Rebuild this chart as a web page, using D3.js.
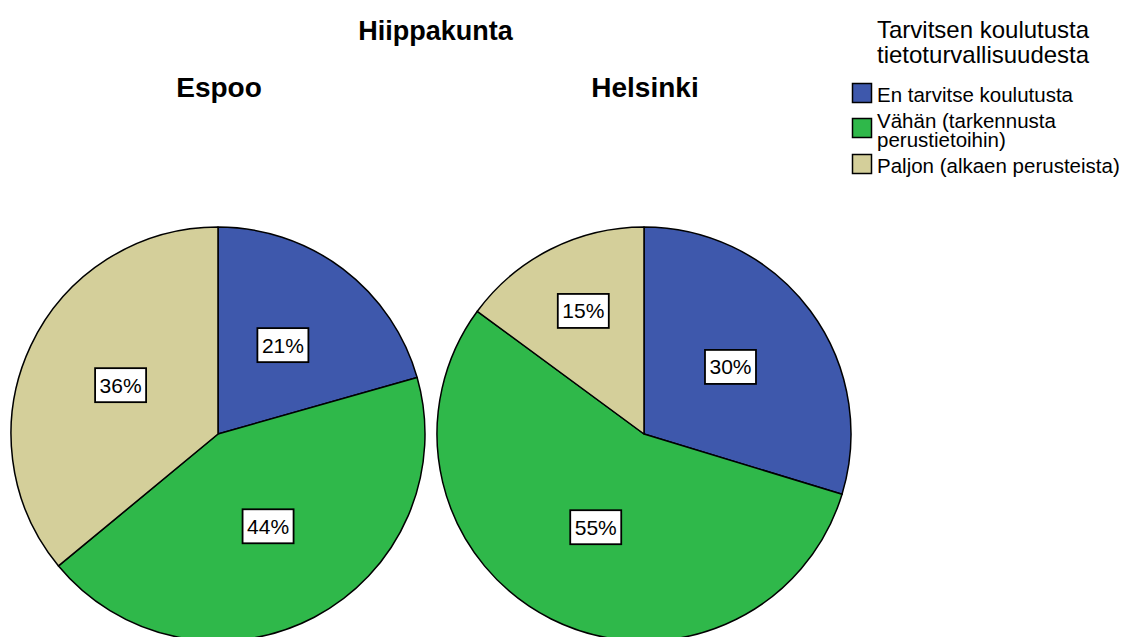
<!DOCTYPE html>
<html><head><meta charset="utf-8">
<script src="https://cdn.jsdelivr.net/npm/d3@7"></script>
<style>html,body{margin:0;padding:0;background:#fff;overflow:hidden}svg{display:block;font-family:Arial,"Liberation Sans",sans-serif}</style>
</head><body>
<svg id="c" width="1123" height="637"></svg>
<script>
const chartTitle = "Hiippakunta";
const panels = ["Espoo", "Helsinki"];
const categories = ["En tarvitse koulutusta", "Vähän (tarkennusta perustietoihin)", "Paljon (alkaen perusteista)"];
const legendLines = [["En tarvitse koulutusta"], ["Vähän (tarkennusta", "perustietoihin)"], ["Paljon (alkaen perusteista)"]];
const legendTitle = ["Tarvitsen koulutusta", "tietoturvallisuudesta"];
const espooValues = [20.6, 43.4, 36.0];
const helsinkiValues = [29.7, 55.4, 14.9];
const espooLabels = ["21%", "44%", "36%"];
const helsinkiLabels = ["30%", "55%", "15%"];
const colors = ["#3e58ac", "#2fb84a", "#d4cf9a"];

const svg = d3.select("#c");
const color = d3.scaleOrdinal().domain(categories).range(colors);
const xPanel = d3.scalePoint().domain(panels).range([218, 644]);
const R = 207, cy = 434;

svg.append("text").attr("x", 435.5).attr("y", 40).attr("text-anchor", "middle")
  .attr("font-size", 27).attr("font-weight", "bold").text(chartTitle);

const pie = d3.pie().sort(null).value(d => d.v);
const arc = d3.arc().innerRadius(0).outerRadius(R);

const datasets = [
  {name: "Espoo", values: espooValues, labels: espooLabels},
  {name: "Helsinki", values: helsinkiValues, labels: helsinkiLabels}
];

datasets.forEach(ds => {
  const cx = xPanel(ds.name);
  svg.append("text").attr("x", cx + 1).attr("y", 97).attr("text-anchor", "middle")
    .attr("font-size", 28).attr("font-weight", "bold").text(ds.name);
  const g = svg.append("g").attr("transform", `translate(${cx},${cy})`);
  const arcs = pie(categories.map((c, i) => ({c, v: ds.values[i], l: ds.labels[i]})));
  g.selectAll("path").data(arcs).join("path")
    .attr("d", arc).attr("fill", d => color(d.data.c))
    .attr("stroke", "#000").attr("stroke-width", 1.5).attr("stroke-linejoin", "round");
  arcs.forEach(d => {
    const frac = d.data.v < 20 ? 0.65 : 0.52;
    const la = d3.arc().innerRadius(R * frac).outerRadius(R * frac);
    const [lx, ly] = la.centroid(d);
    const lg = g.append("g").attr("transform", `translate(${lx},${ly - 3})`);
    lg.append("rect").attr("x", -25.5).attr("y", -17).attr("width", 51).attr("height", 34)
      .attr("fill", "#fff").attr("stroke", "#000").attr("stroke-width", 1.8);
    lg.append("text").attr("text-anchor", "middle").attr("y", 7.5).attr("font-size", 21)
      .text(d.data.l);
  });
});

// legend
const lgd = svg.append("g");
legendTitle.forEach((t, i) => {
  lgd.append("text").attr("x", 877).attr("y", 38 + i * 25).attr("font-size", 24).text(t);
});
const itemTop = [83, 118, 154];
legendLines.forEach((lines, i) => {
  lgd.append("rect").attr("x", 852.5).attr("y", itemTop[i] + 0.5).attr("width", 19).attr("height", 19)
    .attr("fill", color(categories[i])).attr("stroke", "#000").attr("stroke-width", 1.5);
  const base = lines.length > 1 ? itemTop[i] + 10 : itemTop[i] + 18.5;
  const t = lgd.append("text").attr("x", 877).attr("y", base).attr("font-size", 20.5);
  lines.forEach((ln, j) => {
    t.append("tspan").attr("x", 877).attr("dy", j === 0 ? 0 : 19).text(ln);
  });
});
</script>
</body></html>
